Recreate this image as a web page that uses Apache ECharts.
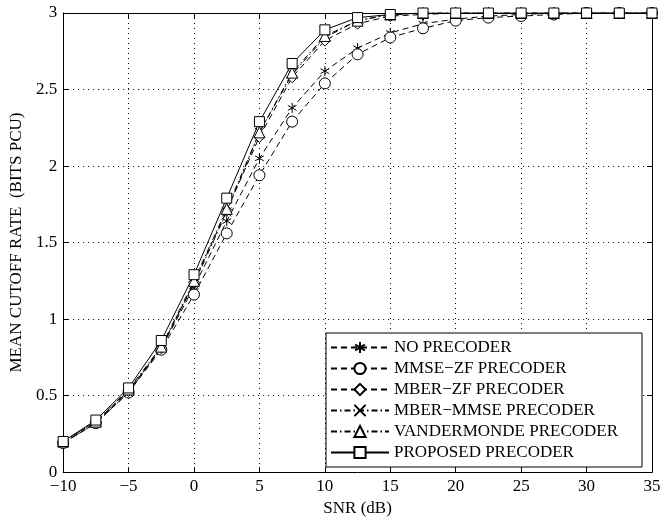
<!DOCTYPE html>
<html>
<head>
<meta charset="utf-8">
<script src="https://cdn.jsdelivr.net/npm/echarts@6/dist/echarts.min.js"></script>
<style>html,body{margin:0;padding:0;background:#fff}#c{width:664px;height:522px}</style>
</head>
<body>
<div id="c"></div>
<script>
const snr = [-10,-7.5,-5,-2.5,0,2.5,5,7.5,10,12.5,15,17.5,20,22.5,25,27.5,30,32.5,35];
const noPrecoder = [0.19,0.32,0.53,0.81,1.21,1.64,2.05,2.38,2.62,2.77,2.87,2.93,2.96,2.98,2.99,3.0,3.0,3.0,3.0];
const mmseZf     = [0.19,0.32,0.52,0.80,1.16,1.56,1.94,2.29,2.54,2.73,2.84,2.90,2.95,2.97,2.98,2.99,3.0,3.0,3.0];
const mberZf     = [0.20,0.33,0.53,0.81,1.24,1.71,2.19,2.58,2.82,2.93,2.98,2.99,3.0,3.0,3.0,3.0,3.0,3.0,3.0];
const mberMmse   = [0.19,0.32,0.52,0.82,1.23,1.70,2.22,2.60,2.84,2.95,2.99,3.0,3.0,3.0,3.0,3.0,3.0,3.0,3.0];
const vandermonde= [0.20,0.33,0.54,0.82,1.25,1.72,2.22,2.61,2.85,2.95,2.99,3.0,3.0,3.0,3.0,3.0,3.0,3.0,3.0];
const proposed   = [0.20,0.34,0.55,0.86,1.29,1.79,2.29,2.67,2.89,2.97,2.99,3.0,3.0,3.0,3.0,3.0,3.0,3.0,3.0];
const names = ['NO PRECODER','MMSE\u2212ZF PRECODER','MBER\u2212ZF PRECODER','MBER\u2212MMSE PRECODER','VANDERMONDE PRECODER','PROPOSED PRECODER'];

const FONT = 'Liberation Serif';
const star = 'path://M0,-1L0,1M-0.87,-0.5L0.87,0.5M-0.87,0.5L0.87,-0.5M-1,0L-1,0M1,0L1,0';
const cross = 'path://M-1,-1L1,1M-1,1L1,-1';
const dash = [6,4];
const dashDot = [6,3,1.5,3];

function pairs(ys){ return snr.map((x,i)=>[x, ys[i]]); }
function mk(name, ys, symbol, size, lineType){
  return {
    name, type:'line', data: pairs(ys), symbol, symbolSize: size, showSymbol:true,
    lineStyle:{color:'#000', width:1, type: lineType},
    itemStyle:{color:'#fff', borderColor:'#000', borderWidth:1},
    emphasis:{disabled:true}, animation:false, z:3
  };
}
const minus = v => String(v).replace('-', '\u2212');

const chart = echarts.init(document.getElementById('c'), null, {renderer:'canvas'});
chart.setOption({
  backgroundColor:'#fff',
  animation:false,
  grid:{left:63, right:12, top:13, bottom:47},
  legend:{
    orient:'vertical', left:326, top:333,
    backgroundColor:'#fff', borderColor:'#000', borderWidth:1,
    padding:[6,24,6,4], itemGap:4, itemWidth:58, itemHeight:14,
    textStyle:{fontFamily:FONT, fontSize:17, color:'#000'},
    data: names
  },
  xAxis:[{
    type:'value', min:-10, max:35, interval:5,
    name:'SNR (dB)', nameLocation:'middle', nameGap:27,
    nameTextStyle:{fontFamily:FONT, fontSize:17, color:'#000'},
    axisLine:{onZero:false, lineStyle:{color:'#000', width:1}},
    axisTick:{inside:true, length:5, lineStyle:{color:'#000'}},
    axisLabel:{fontFamily:FONT, fontSize:17, color:'#000', margin:6, formatter: minus},
    splitLine:{show:true, lineStyle:{color:'#000', width:1, type:[1,4]}}
  },{
    type:'value', position:'top', min:-10, max:35, interval:5,
    axisLine:{show:true, onZero:false, lineStyle:{color:'#000', width:1}},
    axisTick:{show:true, inside:true, length:5, lineStyle:{color:'#000'}},
    axisLabel:{show:false}, splitLine:{show:false}
  }],
  yAxis:[{
    type:'value', min:0, max:3, interval:0.5,
    name:'MEAN CUTOFF RATE  (BITS PCU)', nameLocation:'middle', nameGap:32,
    nameTextStyle:{fontFamily:FONT, fontSize:17, color:'#000'},
    axisLine:{show:true, onZero:false, lineStyle:{color:'#000', width:1}},
    axisTick:{show:true, inside:true, length:5, lineStyle:{color:'#000'}},
    axisLabel:{fontFamily:FONT, fontSize:17, color:'#000', margin:6},
    splitLine:{show:true, lineStyle:{color:'#000', width:1, type:[1,4]}}
  },{
    type:'value', position:'right', min:0, max:3, interval:0.5,
    axisLine:{show:true, onZero:false, lineStyle:{color:'#000', width:1}},
    axisTick:{show:true, inside:true, length:5, lineStyle:{color:'#000'}},
    axisLabel:{show:false}, splitLine:{show:false}
  }],
  series:[
    mk(names[0], noPrecoder, star, 10, dash),
    mk(names[1], mmseZf, 'circle', 11, dash),
    mk(names[2], mberZf, 'diamond', 11, dash),
    mk(names[3], mberMmse, cross, 9, dashDot),
    mk(names[4], vandermonde, 'triangle', 11, dashDot),
    mk(names[5], proposed, 'rect', 10, 'solid')
  ]
});
</script>
</body>
</html>
